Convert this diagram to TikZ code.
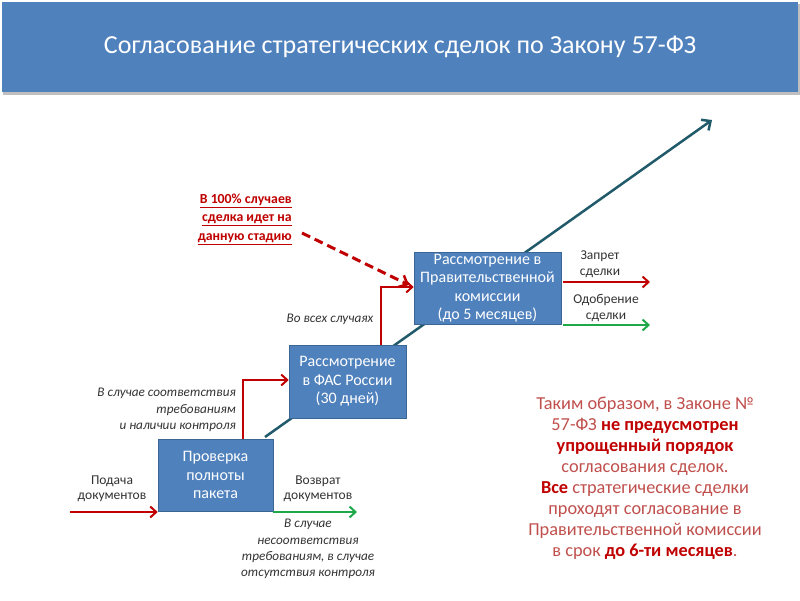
\documentclass[tikz,border=0pt]{standalone}
\usepackage{fontspec}
\setmainfont{Carlito}
\usetikzlibrary{arrows.meta}
\definecolor{boxblue}{HTML}{4F81BD}
\definecolor{boxedge}{HTML}{3A6696}
\definecolor{ared}{HTML}{C00000}
\definecolor{agreen}{HTML}{1FA84A}
\definecolor{teal}{HTML}{215A6A}
\definecolor{txtred}{HTML}{C0504D}
\tikzset{
 x=1pt,y=-1pt,
 bbox/.style={fill=boxblue,draw=boxedge,line width=0.6pt,text=white,align=center,font=\fontsize{16}{18.5}\selectfont,inner sep=0pt},
 redarr/.style={draw=ared,line width=2pt,-{Straight Barb[length=6pt,width=11pt,line width=2pt]}},
 grnarr/.style={draw=agreen,line width=2pt,-{Straight Barb[length=6pt,width=11pt,line width=2pt]}},
 lbl/.style={align=center,font=\fontsize{13.5}{15.5}\selectfont,text=black!80,inner sep=0pt},
 ilbl/.style={font=\fontsize{13.2}{16.3}\selectfont\itshape,text=black!80,inner sep=0pt},
}
\begin{document}
\begin{tikzpicture}
\useasboundingbox (0,0) rectangle (800,600);
\fill[white] (0,0) rectangle (800,600);
\fill[black!25] (3,4) rectangle (800,95);
\fill[boxblue] (2,2) rectangle (798,92);
\node[text=white,font=\fontsize{26}{30}\selectfont] (title) at (400,47) {Согласование стратегических сделок по Закону 57-ФЗ};
% diagonal
\coordinate (ds) at (265,437);
\coordinate (de) at (712,120);
\draw[teal,line width=2.5pt,-{Straight Barb[length=7pt,width=13pt,line width=2.5pt]}] (ds) -- (de);
% boxes
\node[bbox,minimum width=115pt,minimum height=72pt] (b1) at (215.5,475) {Проверка\\полноты\\пакета};
\node[bbox,minimum width=117pt,minimum height=73pt] (b2) at (347.5,381.5) {Рассмотрение\\в ФАС России\\(30 дней)};
\node[bbox,minimum width=147pt,minimum height=72pt] (b3) at (487.5,288) {Рассмотрение в\\Правительственной\\комиссии\\(до 5 месяцев)};
% arrows
\coordinate (in) at (70,512);
\draw[redarr] (in) -- (b1.west |- in);
\coordinate (ret) at (357,512);
\draw[grnarr] (b1.east |- ret) -- (ret);
\draw[redarr] (243,439) |- (b2.west |- 0,380);
\draw[redarr] (381,345) |- (b3.west |- 0,287);
\coordinate (ds2) at (302,233);
\draw[ared,line width=3pt,dash pattern=on 9pt off 5pt,-{Straight Barb[length=7pt,width=13pt,line width=2.5pt]}] (ds2) -- (409,285);
\coordinate (ban) at (650,282);
\coordinate (ok) at (650,325);
\draw[redarr] (b3.east |- ban) ++(2,0) -- (ban);
\draw[grnarr] (b3.east |- ok) ++(2,0) -- (ok);
% labels
\node[lbl] (l1) at (112,489) {Подача\\документов};
\node[lbl] (l2) at (318,489) {Возврат\\документов};
\node[ilbl,align=center] (l3) at (308,549) {В случае\\несоответствия\\требованиям, в случае\\отсутствия контроля};
\node[ilbl,align=right,anchor=east] (l4) at (236,410) {В случае соответствия\\требованиям\\и наличии контроля};
\node[ilbl] (l5) at (330,319) {Во всех случаях};
\node[lbl] (l6) at (600,264) {Запрет\\сделки};
\node[lbl] (l7) at (606,308) {Одобрение\\сделки};
\node[align=right,anchor=east,text=ared,font=\fontsize{13.8}{18.5}\selectfont\bfseries,inner sep=0pt] (l8) at (292,219)
 {\underline{В 100\% случаев}\\\underline{сделка идет на}\\\underline{данную стадию}};
\node[align=center,text=txtred,font=\fontsize{18.3}{21}\selectfont,inner sep=0pt] (concl) at (645,478)
 {Таким образом, в Законе №\\57-ФЗ \textcolor{ared}{\textbf{не предусмотрен}}\\\textcolor{ared}{\textbf{упрощенный порядок}}\\согласования сделок.\\\textcolor{ared}{\textbf{Все}} стратегические сделки\\проходят согласование в\\Правительственной комиссии\\в срок \textcolor{ared}{\textbf{до 6-ти месяцев}}.};
\end{tikzpicture}
\end{document}
